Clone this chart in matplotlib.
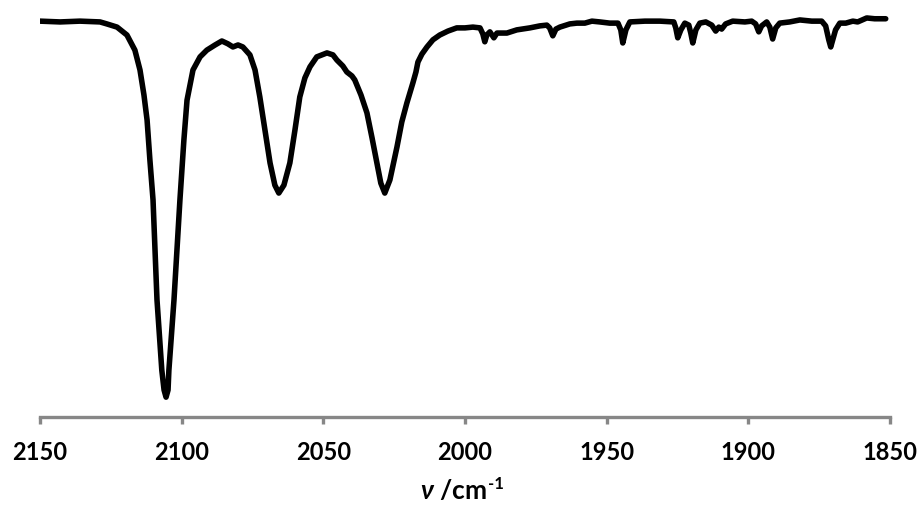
import numpy as np
import matplotlib
matplotlib.use("Agg")
from matplotlib import pyplot as plt

# IR spectrum (wavenumber / cm-1, transmittance / %)
wavenumber = [2150.0, 2142.9, 2135.9, 2128.8, 2126.4, 2122.8, 2119.3, 2116.5, 2114.7, 2113.3,
              2112.2, 2111.2, 2110.1, 2108.7, 2107.0, 2106.2, 2105.5, 2104.8, 2104.5, 2102.7,
              2100.6, 2099.2, 2098.1, 2096.0, 2093.5, 2091.1, 2088.2, 2085.8, 2083.7, 2081.9,
              2080.1, 2078.4, 2075.9, 2074.1, 2072.4, 2070.6, 2068.8, 2067.1, 2065.7, 2063.9,
              2061.8, 2060.0, 2058.3, 2056.5, 2054.7, 2052.3, 2048.7, 2046.6, 2045.2, 2043.1,
              2041.7, 2039.9, 2038.9, 2036.7, 2034.6, 2032.8, 2031.1, 2029.7, 2028.3, 2026.5,
              2024.0, 2022.3, 2020.5, 2019.1, 2018.4, 2017.3, 2016.6, 2015.2, 2013.4, 2011.3,
              2008.9, 2006.0, 2002.9, 2000.0, 1997.2, 1994.7, 1993.7, 1993.0, 1992.3, 1991.2,
              1989.8, 1988.7, 1985.2, 1981.7, 1977.1, 1973.6, 1971.1, 1970.1, 1969.0, 1967.9,
              1966.5, 1963.0, 1960.5, 1957.7, 1955.2, 1952.4, 1948.9, 1946.0, 1945.0, 1944.3,
              1943.2, 1941.8, 1936.5, 1931.2, 1926.3, 1925.6, 1924.9, 1923.8, 1922.4, 1921.0,
              1920.3, 1919.6, 1918.5, 1917.1, 1915.0, 1912.9, 1911.5, 1910.4, 1909.4, 1908.0,
              1905.5, 1901.2, 1898.8, 1897.4, 1896.3, 1895.3, 1893.5, 1892.4, 1891.4, 1890.3,
              1888.9, 1885.4, 1881.8, 1877.6, 1874.1, 1872.7, 1871.6, 1870.9, 1870.2, 1869.2,
              1867.7, 1865.6, 1863.1, 1861.4, 1858.2, 1855.4, 1851.5]
transmittance = [99.7, 99.5, 99.7, 99.5, 99.0, 98.2, 96.2, 92.4, 87.4, 81.1,
                 74.8, 64.7, 54.7, 29.5, 11.8, 6.8, 5.0, 6.8, 11.8, 29.5,
                 54.7, 69.8, 79.8, 87.4, 90.7, 92.4, 93.7, 94.7, 94.0, 93.2,
                 93.7, 93.2, 91.2, 87.4, 80.6, 72.3, 64.0, 58.4, 56.4, 58.4,
                 64.0, 72.3, 80.6, 85.4, 88.2, 90.7, 91.7, 91.2, 89.9, 88.4,
                 86.9, 85.9, 84.9, 81.1, 76.6, 70.3, 64.0, 58.9, 56.4, 59.7,
                 68.0, 74.3, 79.1, 82.4, 84.1, 86.9, 89.4, 91.4, 93.2, 95.0,
                 96.2, 97.2, 98.0, 98.0, 98.2, 98.0, 96.5, 94.5, 96.2, 97.0,
                 95.5, 96.7, 96.7, 97.5, 98.0, 98.5, 98.7, 98.0, 96.0, 97.7,
                 98.2, 99.0, 99.2, 99.2, 99.7, 99.5, 99.2, 99.2, 97.5, 94.2,
                 97.5, 99.5, 99.7, 99.7, 99.5, 98.0, 95.5, 97.5, 99.2, 98.7,
                 96.7, 94.2, 97.5, 99.2, 99.5, 98.7, 97.2, 98.2, 97.7, 99.0,
                 99.7, 99.5, 99.7, 99.0, 97.0, 98.5, 99.5, 98.2, 95.2, 98.0,
                 99.2, 99.5, 100.0, 99.7, 99.7, 98.5, 95.0, 93.2, 95.0, 97.5,
                 99.2, 99.2, 99.7, 99.5, 100.5, 100.3, 100.3]
xticks = [2150, 2100, 2050, 2000, 1950, 1900, 1850]

plt.rcParams['mathtext.fontset'] = 'custom'
plt.rcParams['mathtext.rm'] = 'Lato:bold'
plt.rcParams['mathtext.bf'] = 'Lato:bold'
plt.rcParams['mathtext.it'] = 'Lato:bold:italic'

fig = plt.figure(figsize=(9.19, 5.14), dpi=100)
ax = fig.add_axes([0.0435, 0.1887, 0.9249, 0.7918])

ax.plot(wavenumber, transmittance, color='black', lw=4, solid_joinstyle='round',
        solid_capstyle='round')

ax.set_xlim(2150, 1850)
ax.set_ylim(0, 102.5)
ax.set_xticks(xticks)
ax.set_xticklabels([str(t) for t in xticks], fontfamily='Lato', fontweight='bold', fontsize=17)
ax.set_yticks([])

for s in ['top', 'left', 'right']:
    ax.spines[s].set_visible(False)
ax.spines['bottom'].set_color('#878787')
ax.spines['bottom'].set_linewidth(2.4)
ax.tick_params(axis='x', direction='out', length=5, width=2.4, color='#878787', pad=12)

# axis title: italic nu, then "/cm" and a small "-1" raised after it
lab = fig.text(0.493, 0.045, r'$\mathit{\nu}$ /cm', fontfamily='Lato', fontweight='bold',
               fontsize=19, ha='center', va='center')
fig.canvas.draw()
ax.annotate('-1', xy=(1, 1), xycoords=lab, xytext=(1, 1.5), textcoords='offset points',
            fontfamily='Lato', fontweight='bold', fontsize=12, ha='left', va='top',
            annotation_clip=False)

fig.savefig('out.png', dpi=100)
